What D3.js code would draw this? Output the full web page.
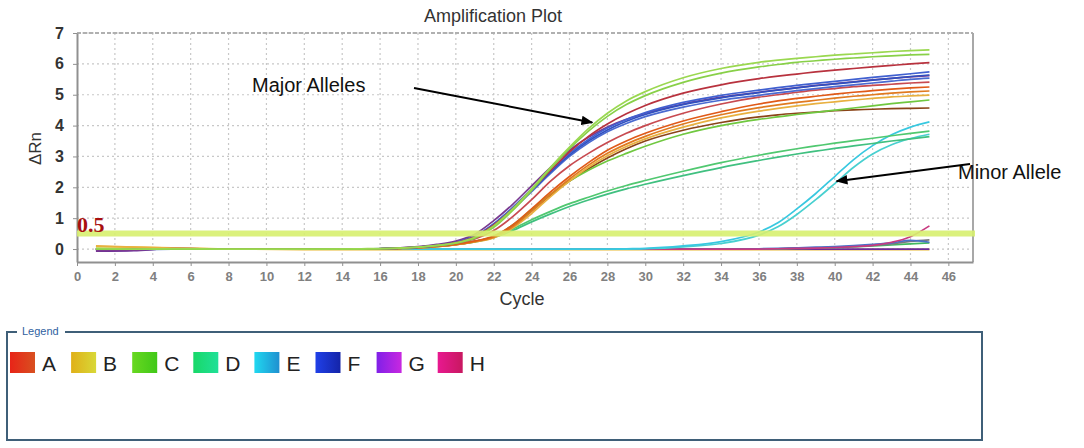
<!DOCTYPE html>
<html>
<head>
<meta charset="utf-8">
<title>Amplification Plot</title>
<script src="https://d3js.org/d3.v7.min.js"></script>
<style>
  body { margin: 0; background: #fff; }
  svg { display: block; font-family: "Liberation Sans", Arial, sans-serif; }
</style>
</head>
<body>
<div id="chart"></div>
<script>
const cycles = [1,3,5,8,12,15,17,18,19,20,21,22,23,24,25,26,27,28,29,30,32,34,36,37,38,39,40,41,42,43,44,45];

// major alleles, early group
const cGreen1 = [0.02,0,0.01,0,0,0.01,0.03,0.06,0.12,0.2,0.38,0.75,1.3,1.95,2.65,3.3,3.9,4.4,4.8,5.1,5.55,5.85,6.05,6.12,6.18,6.23,6.28,6.32,6.36,6.4,6.43,6.45];
const cGreen2 = [0,0,0,0,0,0,0.03,0.06,0.11,0.19,0.35,0.7,1.25,1.9,2.6,3.25,3.82,4.3,4.68,4.97,5.4,5.7,5.9,5.98,6.05,6.1,6.15,6.19,6.23,6.26,6.29,6.31];
const aDark = [0,0,0.01,0,0,0,0.03,0.06,0.12,0.21,0.4,0.78,1.3,1.92,2.55,3.15,3.65,4.05,4.38,4.65,5.05,5.32,5.52,5.6,5.67,5.74,5.8,5.85,5.9,5.95,6.0,6.04];
const fBlue1 = [0,0,0,0,0,0,0.03,0.06,0.12,0.22,0.42,0.82,1.35,1.95,2.55,3.1,3.55,3.92,4.2,4.42,4.75,4.98,5.15,5.23,5.3,5.37,5.43,5.5,5.56,5.62,5.68,5.74];
const fBlue2 = [0,0,0,0,0,0,0.03,0.06,0.12,0.21,0.4,0.8,1.32,1.9,2.5,3.05,3.5,3.86,4.14,4.36,4.68,4.9,5.07,5.15,5.22,5.29,5.35,5.41,5.47,5.53,5.59,5.64];
const fBlue3 = [0,0,0,0,0,0,0.03,0.05,0.11,0.2,0.38,0.76,1.28,1.86,2.45,3.0,3.44,3.8,4.07,4.29,4.6,4.82,4.98,5.06,5.13,5.2,5.26,5.32,5.38,5.44,5.5,5.54];
const gPurple = [-0.06,-0.04,0.01,0,0,0,0.04,0.08,0.15,0.26,0.48,0.92,1.45,2.05,2.65,3.2,3.62,3.95,4.2,4.4,4.7,4.92,5.08,5.16,5.23,5.3,5.36,5.42,5.48,5.53,5.58,5.62];

// major alleles, later group
const aRed = [0,0,0,0,0,0,0.03,0.06,0.11,0.19,0.33,0.6,1.05,1.6,2.2,2.7,3.1,3.45,3.75,4.0,4.4,4.7,4.92,5.0,5.08,5.15,5.2,5.26,5.3,5.34,5.38,5.41];
const aOrange1 = [0,0,0,0,0,0,0.02,0.05,0.09,0.16,0.26,0.42,0.78,1.3,1.85,2.35,2.8,3.2,3.5,3.75,4.15,4.45,4.7,4.8,4.88,4.95,5.02,5.08,5.13,5.18,5.22,5.25];
const aOrange2 = [0,0,0,0,0,0,0.02,0.04,0.08,0.14,0.24,0.38,0.72,1.22,1.77,2.27,2.72,3.1,3.4,3.65,4.05,4.35,4.58,4.67,4.75,4.82,4.89,4.95,5.0,5.05,5.09,5.12];
const bYellow = [0.1,0.06,0.03,0,0,0,0.02,0.04,0.08,0.14,0.23,0.36,0.68,1.15,1.7,2.2,2.65,3.02,3.32,3.57,3.95,4.25,4.47,4.56,4.64,4.71,4.77,4.83,4.88,4.93,4.96,4.99];
const cGreen3 = [0,0,0,0,0,0,0.02,0.05,0.09,0.15,0.25,0.4,0.78,1.28,1.78,2.2,2.55,2.85,3.1,3.33,3.72,4.0,4.2,4.28,4.36,4.43,4.5,4.57,4.64,4.71,4.77,4.83];
const aBrown = [0,0,0,0,0,0,0.02,0.05,0.09,0.15,0.25,0.4,0.75,1.25,1.75,2.2,2.6,2.95,3.25,3.5,3.85,4.1,4.28,4.35,4.4,4.44,4.48,4.51,4.53,4.55,4.56,4.57];
const dTeal1 = [0,0,0,0,0,0,0.02,0.05,0.09,0.15,0.25,0.4,0.65,0.95,1.22,1.47,1.68,1.88,2.06,2.22,2.52,2.8,3.04,3.15,3.25,3.34,3.43,3.51,3.59,3.67,3.75,3.82];
const dTeal2 = [0,0,0,0,0,0,0.02,0.04,0.08,0.14,0.23,0.37,0.6,0.88,1.14,1.38,1.59,1.78,1.95,2.1,2.38,2.64,2.87,2.98,3.08,3.17,3.26,3.34,3.42,3.5,3.57,3.64];

// minor allele
const eCyan1 = [0,0,0,0,0,0,0,0,0,0,0,0,0,0,0,0,0,0,0.01,0.02,0.1,0.24,0.55,0.85,1.3,1.8,2.35,2.9,3.35,3.7,3.95,4.12];
const eCyan2 = [0,0,0,0,0,0,0,0,0,0,0,0,0,0,0,0,0,0,0,0.01,0.07,0.18,0.45,0.72,1.12,1.6,2.12,2.65,3.08,3.38,3.58,3.72];

// near-baseline wells
const hPink = [0,0,0,0,0,0,0,0,0,0,0,0,0,0,0,0,0,0,0,0,0,0,0,0.01,0.02,0.03,0.05,0.08,0.12,0.22,0.4,0.75];
const ntcGrey = [0,0,0,0,0,0,0,0,0,0,0,0,0,0,0,0,0,0,0,0,0,0,0,0.01,0.03,0.04,0.06,0.09,0.12,0.17,0.25,0.3];
const ntcBlue = [-0.03,-0.02,0,0,0,0,0,0,0,0,0,0,0,0,0,0,0,0,0,0,0,0,0.01,0.02,0.04,0.06,0.08,0.11,0.15,0.2,0.28,0.22];
const ntcGreen = [0,0,0,0,0,0,0,0,0,0,0,0,0,0,0,0,0,0,0,0,0,0,0,0,0.02,0.03,0.05,0.07,0.1,0.13,0.17,0.2];
const flatYellow = [0.08,0.06,0.04,0,-0.02,-0.02,-0.02,-0.02,-0.02,-0.02,-0.02,-0.02,-0.02,-0.02,-0.02,-0.02,-0.02,-0.02,-0.02,-0.02,-0.02,-0.02,-0.02,-0.02,-0.02,-0.02,-0.02,-0.02,-0.02,-0.02,-0.02,-0.02];
const flatPurple = [-0.07,-0.05,0.02,0,0,0,0,0,0,0,0,0,0,0,0,0,0,0,0,0,0,0,0,0,0,0,0,0,0,0,0,0];

const xTicks = d3.range(0, 47, 2);
const yTicks = [0,1,2,3,4,5,6,7];
const legendLabels = ["A","B","C","D","E","F","G","H"];
const threshold = 0.5;

// series table (drawn bottom first)
const series = [
  { v: flatYellow, c: "#e8b830" },
  { v: flatPurple, c: "#6a2a9a" },
  { v: ntcGreen, c: "#40b860" },
  { v: ntcGrey, c: "#7a7a7a" },
  { v: ntcBlue, c: "#4a70c8" },
  { v: hPink, c: "#c83a80" },
  { v: eCyan2, c: "#48d0d0" },
  { v: eCyan1, c: "#38c8e0" },
  { v: dTeal2, c: "#40c080" },
  { v: dTeal1, c: "#50c870" },
  { v: aBrown, c: "#8a4418" },
  { v: cGreen3, c: "#70c840" },
  { v: bYellow, c: "#e8b040" },
  { v: aOrange2, c: "#e07a20" },
  { v: aOrange1, c: "#e05a18" },
  { v: aRed, c: "#c84a50" },
  { v: gPurple, c: "#7a3a90" },
  { v: fBlue3, c: "#4a6ad0" },
  { v: fBlue2, c: "#3050c0" },
  { v: fBlue1, c: "#4060d0" },
  { v: aDark, c: "#b8323e" },
  { v: cGreen2, c: "#88d048" },
  { v: cGreen1, c: "#9ad850" }
];

const legendColors = [
  ["#e82418", "#d85020"], ["#e0b018", "#d8d838"], ["#68d820", "#40c818"], ["#18d868", "#20e098"],
  ["#20d8f0", "#2090d0"], ["#2040e8", "#1424a8"], ["#8020e8", "#c828e0"], ["#e81890", "#c81860"]
];

const W = 1084, H = 448;
const plot = { left: 77, top: 33, right: 973, bottom: 262 };

const svg = d3.select("#chart").append("svg")
  .attr("width", W).attr("height", H);

const x = d3.scaleLinear().domain([0, 47.3]).range([plot.left, plot.right]);
const y = d3.scaleLinear().domain([-0.42, 7]).range([plot.bottom, plot.top]);

// grid
const grid = svg.append("g").attr("stroke", "#c8c8c8").attr("stroke-width", 1.2).attr("stroke-dasharray", "2,3");
grid.selectAll(".gx").data(xTicks.filter(d => d > 0)).enter().append("line")
  .attr("x1", d => x(d)).attr("x2", d => x(d)).attr("y1", plot.top).attr("y2", plot.bottom);
grid.selectAll(".gy").data(yTicks).enter().append("line")
  .attr("y1", d => y(d)).attr("y2", d => y(d)).attr("x1", plot.left).attr("x2", plot.right);

// frame
svg.append("line").attr("x1", plot.left).attr("x2", plot.right).attr("y1", plot.top).attr("y2", plot.top)
  .attr("stroke", "#b0b0b0").attr("stroke-width", 2).attr("stroke-dasharray", "4,2");
svg.append("line").attr("x1", plot.right).attr("x2", plot.right).attr("y1", plot.top).attr("y2", plot.bottom)
  .attr("stroke", "#a8a8a8").attr("stroke-width", 2);

// axes
const xAxis = svg.append("g").attr("transform", `translate(0,${plot.bottom})`)
  .call(d3.axisBottom(x).tickValues(xTicks).tickSize(4).tickPadding(6).tickSizeOuter(0));
xAxis.select(".domain").attr("stroke", "#909090").attr("stroke-width", 2);
xAxis.selectAll(".tick line").attr("stroke", "#909090");
xAxis.selectAll("text").attr("fill", "#808080").style("font-size", "13px").style("font-weight", "bold");

const yAxis = svg.append("g").attr("transform", `translate(${plot.left},0)`)
  .call(d3.axisLeft(y).tickValues(yTicks).tickSize(4).tickPadding(9).tickSizeOuter(0));
yAxis.select(".domain").attr("stroke", "#909090").attr("stroke-width", 2);
yAxis.selectAll(".tick line").attr("stroke", "#909090");
yAxis.selectAll("text").attr("fill", "#333").style("font-size", "16px").style("font-weight", "bold");

// curves
const line = d3.line()
  .x((d, i) => x(cycles[i]))
  .y(d => y(d))
  .curve(d3.curveMonotoneX);

svg.append("g").selectAll("path").data(series).enter().append("path")
  .attr("d", d => line(d.v))
  .attr("fill", "none")
  .attr("stroke", d => d.c)
  .attr("stroke-width", 1.7);

// threshold band
svg.append("line")
  .attr("x1", plot.left).attr("x2", plot.right + 2)
  .attr("y1", y(threshold)).attr("y2", y(threshold))
  .attr("stroke", "#d8f070").attr("stroke-width", 6).attr("opacity", 0.9);
svg.append("text")
  .attr("x", plot.left).attr("y", y(threshold) - 2)
  .attr("font-family", "'Liberation Serif', 'Times New Roman', serif")
  .attr("font-weight", "bold").attr("font-size", 22).attr("fill", "#a81010")
  .text(threshold);

// titles
svg.append("text").attr("x", 493).attr("y", 22).attr("text-anchor", "middle")
  .attr("font-size", 18).attr("fill", "#333").text("Amplification Plot");
svg.append("text").attr("transform", `translate(41,${(plot.top + plot.bottom) / 2 + 1}) rotate(-90)`)
  .attr("text-anchor", "middle").attr("font-size", 17).attr("fill", "#333").text("ΔRn");
svg.append("text").attr("x", 522).attr("y", 305).attr("text-anchor", "middle")
  .attr("font-size", 18).attr("fill", "#333").text("Cycle");

// annotations
const defs = svg.append("defs");
defs.append("marker").attr("id", "arrow").attr("viewBox", "0 0 10 10")
  .attr("refX", 9).attr("refY", 5).attr("markerWidth", 6).attr("markerHeight", 6)
  .attr("orient", "auto")
  .append("path").attr("d", "M0,1 L10,5 L0,9 z").attr("fill", "#000");

svg.append("text").attr("x", 252).attr("y", 92).attr("font-size", 20).attr("fill", "#111").text("Major Alleles");
svg.append("line").attr("x1", 414).attr("y1", 88).attr("x2", x(27.2)).attr("y2", y(4.1))
  .attr("stroke", "#000").attr("stroke-width", 2).attr("marker-end", "url(#arrow)");
svg.append("text").attr("x", 958).attr("y", 179).attr("font-size", 20).attr("fill", "#111").text("Minor Allele");
svg.append("line").attr("x1", 970).attr("y1", 164).attr("x2", x(40.1)).attr("y2", y(2.2))
  .attr("stroke", "#000").attr("stroke-width", 2).attr("marker-end", "url(#arrow)");

// legend
const lg = { x: 7, y: 332, w: 975, h: 108 };
svg.append("rect").attr("x", lg.x).attr("y", lg.y).attr("width", lg.w).attr("height", lg.h)
  .attr("fill", "none").attr("stroke", "#3f5f78").attr("stroke-width", 2);
svg.append("rect").attr("x", 17).attr("y", lg.y - 3).attr("width", 48).attr("height", 6).attr("fill", "#fff");
svg.append("text").attr("x", 22).attr("y", lg.y + 3).attr("font-size", 11).attr("fill", "#2f5f9f").text("Legend");

legendColors.forEach((c, i) => {
  const g = defs.append("linearGradient").attr("id", "lg" + i);
  g.append("stop").attr("offset", "0%").attr("stop-color", c[0]);
  g.append("stop").attr("offset", "100%").attr("stop-color", c[1]);
});

const step = 61.1;
const items = svg.append("g").selectAll("g").data(legendLabels).enter().append("g")
  .attr("transform", (d, i) => `translate(${10 + i * step},352)`);
items.append("rect").attr("width", 25).attr("height", 21).attr("fill", (d, i) => `url(#lg${i})`);
items.append("text").attr("x", 32).attr("y", 19).attr("font-size", 21).attr("fill", "#222").text(d => d);
</script>
</body>
</html>
